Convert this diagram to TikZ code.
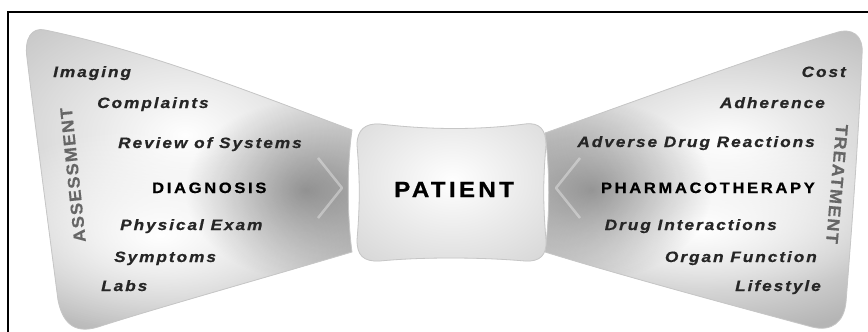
\documentclass[tikz,border=0pt]{standalone}
\usepackage{fontspec}
\setmainfont{Liberation Sans}
\newfontfamily\itemfont[LetterSpace=13, FakeStretch=1.15, BoldItalicFeatures={FakeBold=0.6}, BoldFeatures={FakeBold=0.6}]{Liberation Sans}
\newfontfamily\capsfont[LetterSpace=18, FakeStretch=1.1, BoldFeatures={FakeBold=0.8}]{Liberation Sans}
\newfontfamily\patfont[LetterSpace=15, FakeStretch=1.1, BoldFeatures={FakeBold=0.8}]{Liberation Sans}
\newfontfamily\sidefont[LetterSpace=8, FakeStretch=1.05, BoldFeatures={FakeBold=0.4}]{Liberation Sans}
\usetikzlibrary{fadings}
\tikzfading[name=softspot, inner color=transparent!0, outer color=transparent!100]
\def\leftshape{(45,30) .. controls (150,52) and (250,92) .. (352,130) .. controls (347,165) and (347,215) .. (352,252) .. controls (250,282) and (150,310) .. (98,327) .. controls (72,335) and (62,320) .. (58,300) .. controls (45,200) and (32,100) .. (27,58) .. controls (24,38) and (32,27) .. (45,30) -- cycle}
\def\rightshape{(545,133) .. controls (650,96) and (760,55) .. (835,33) .. controls (852,27) and (864,35) .. (862,55) .. controls (858,150) and (850,250) .. (846,302) .. controls (844,322) and (832,332) .. (812,327) .. controls (720,302) and (620,275) .. (545,252) .. controls (550,215) and (550,170) .. (545,133) -- cycle}
\def\patshape{(380,124) .. controls (430,130) and (480,130) .. (525,124) .. controls (540,122) and (546,130) .. (546,145) .. controls (543,180) and (543,205) .. (546,240) .. controls (547,255) and (540,262) .. (525,261) .. controls (480,257) and (420,257) .. (380,261) .. controls (363,262) and (357,255) .. (357,240) .. controls (360,205) and (360,180) .. (357,145) .. controls (357,130) and (365,123) .. (380,124) -- cycle}
\begin{document}
\begin{tikzpicture}[x=1pt,y=-1pt,
  itemL/.style={anchor=base west, inner sep=0pt, text=black!85, font=\itemfont\bfseries\itshape\fontsize{15}{17}\selectfont},
  itemR/.style={itemL, anchor=base east},
  headL/.style={anchor=base west, inner sep=0pt, text=black, font=\capsfont\bfseries\fontsize{15}{17}\selectfont},
  headR/.style={headL, anchor=base east},
  side/.style={inner sep=0pt, text=black!60, font=\sidefont\bfseries\fontsize{17}{20}\selectfont},
  spot/.style={path fading=softspot},
  rim/.style={draw=gray!45, line width=0.8pt}]
\useasboundingbox (0,0) rectangle (868,332);
\fill[white] (0,0) rectangle (868,332);
\draw[line width=1.2pt] (8,332) -- (8,12) -- (868,12);
% left wing
\begin{scope}
  \clip \leftshape;
  \fill[gray!58] (0,0) rectangle (434,332);
  \fill[white, spot] (185,135) ellipse (300 and 200);
  \fill[white, spot] (160,235) ellipse (200 and 110);
  \fill[black, opacity=0.35, spot] (305,190) ellipse (120 and 90);
  \draw[white, opacity=0.35, line width=2.5pt, line join=round] (318,158) -- (342,188) -- (318,218);
\end{scope}
\draw[rim] \leftshape;
% right wing
\begin{scope}
  \clip \rightshape;
  \fill[gray!58] (434,0) rectangle (868,332);
  \fill[white, spot] (725,140) ellipse (280 and 150);
  \fill[white, spot] (700,228) ellipse (240 and 110);
  \fill[black, opacity=0.35, spot] (592,190) ellipse (120 and 90);
  \draw[white, opacity=0.35, line width=2.5pt, line join=round] (580,158) -- (556,188) -- (580,218);
\end{scope}
\draw[rim] \rightshape;
% patient
\begin{scope}
  \clip \patshape;
  \fill[gray!50] (350,115) rectangle (555,270);
  \fill[white, spot] (452,180) ellipse (230 and 170);
\end{scope}
\draw[rim] \patshape;
\node[anchor=base west, inner sep=0pt, font=\patfont\bfseries\fontsize{22}{25}\selectfont] (patient) at (394,197) {PATIENT};
% left labels
\node[itemL] (imaging) at (53,77) {Imaging};
\node[itemL] (complaints) at (97,108) {Complaints};
\node[itemL] (ros) at (118,148) {Review of Systems};
\node[headL] (diagnosis) at (152,193) {DIAGNOSIS};
\node[itemL] (exam) at (120,230) {Physical Exam};
\node[itemL] (symptoms) at (114,262) {Symptoms};
\node[itemL] (labs) at (101,291) {Labs};
\node[side, rotate=96] (assessment) at (73,175) {ASSESSMENT};
% right labels
\node[itemR] (cost) at (846,77) {Cost};
\node[itemR] (adherence) at (825,108) {Adherence};
\node[itemR] (adr) at (815,147) {Adverse Drug Reactions};
\node[headR] (pharma) at (815,193) {PHARMACOTHERAPY};
\node[itemR] (interactions) at (777,230) {Drug Interactions};
\node[itemR] (organ) at (817,262) {Organ Function};
\node[itemR] (lifestyle) at (821,291) {Lifestyle};
\node[side, rotate=-95] (treatment) at (837,184) {TREATMENT};
\end{tikzpicture}
\end{document}
